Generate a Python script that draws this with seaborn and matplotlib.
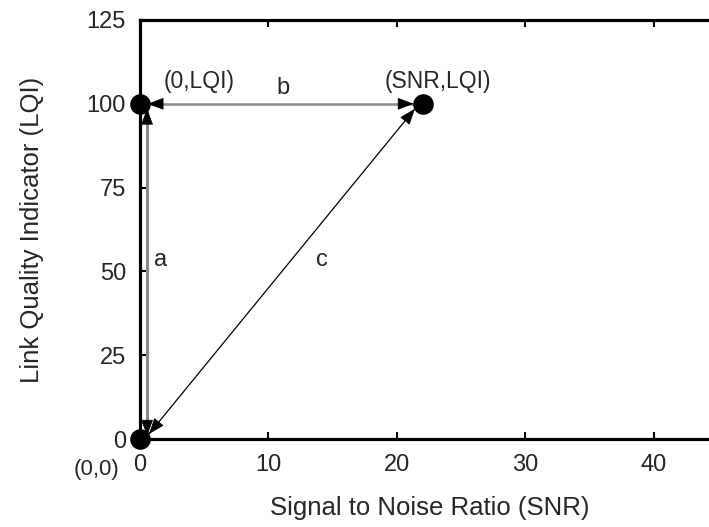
import matplotlib
matplotlib.use("Agg")
import matplotlib.pyplot as plt
import seaborn as sns
import pandas as pd

# Corner points of the SNR / LQI triangle
snr = [0, 0, 22]
lqi = [0, 100, 100]
point_names = ["(0,0)", "(0,LQI)", "(SNR,LQI)"]

# Edges of the triangle: (start point, end point, label)
edges = [(0, 1, "a"), (1, 2, "b"), (0, 2, "c")]

x_ticks = [0, 10, 20, 30, 40]
y_ticks = [0, 25, 50, 75, 100, 125]

sns.set_theme(style="white")
plt.rcParams["font.family"] = ["Liberation Sans", "DejaVu Sans"]

fig = plt.figure(figsize=(7.09, 5.27), dpi=100)
ax = fig.add_axes([140 / 709, 1 - 439 / 527, 578 / 709, 419 / 527])

df = pd.DataFrame({"snr": snr, "lqi": lqi, "name": point_names})
sns.scatterplot(data=df, x="snr", y="lqi", ax=ax, s=220, color="black",
                edgecolor="black", linewidth=0, zorder=5, clip_on=False)

# Edge styles and small offsets so the arrows sit just inside the dots
edge_style = {
    "a": dict(color="#8a8a8a", lw=2.2, off=((0.55, 1.0), (0.55, -1.5))),
    "b": dict(color="#8a8a8a", lw=1.8, off=((0.6, 0.0), (-0.7, 0.0))),
    "c": dict(color="black", lw=0.9, off=((0.7, 1.5), (-0.6, -1.5))),
}
head = "-|>,head_length=0.85,head_width=0.32"
for i, j, name in edges:
    st = edge_style[name]
    (dx0, dy0), (dx1, dy1) = st["off"]
    x0, y0 = snr[i] + dx0, lqi[i] + dy0
    x1, y1 = snr[j] + dx1, lqi[j] + dy1
    ax.plot([x0, x1], [y0, y1], color=st["color"], lw=st["lw"], zorder=3,
            solid_capstyle="butt")
    # black arrowheads at both ends
    for (xa, ya), (xb, yb) in (((x0, y0), (x1, y1)), ((x1, y1), (x0, y0))):
        xs = xa + (xb - xa) * 0.02
        ys = ya + (yb - ya) * 0.02
        ax.annotate("", xy=(xa, ya), xytext=(xs, ys),
                    arrowprops=dict(arrowstyle=head, color="black", lw=0.6,
                                    shrinkA=0, shrinkB=0, mutation_scale=12),
                    zorder=4)

# Edge labels
ax.text(1.6, 53.5, "a", fontsize=17, ha="center", va="center")
ax.text(11.1, 104.8, "b", fontsize=17, ha="center", va="center")
ax.text(14.2, 53.5, "c", fontsize=17, ha="center", va="center")

# Point labels
ax.text(4.6, 106.8, point_names[1], fontsize=16.5, ha="center", va="center")
ax.text(23.2, 106.8, point_names[2], fontsize=16.5, ha="center", va="center")
ax.text(-3.4, -9.0, point_names[0], fontsize=16, ha="center", va="center",
        clip_on=False)

ax.set_xlim(0, 45)
ax.set_ylim(0, 125)
ax.set_xticks(x_ticks)
ax.set_yticks(y_ticks)
ax.tick_params(axis="both", direction="in", length=5, width=1.5,
               labelsize=17, color="black")
ax.tick_params(axis="x", top=True, labeltop=False, bottom=True, pad=11)
ax.tick_params(axis="y", left=True, right=False, pad=10)

for side in ["left", "top", "bottom"]:
    ax.spines[side].set_linewidth(2.3)
    ax.spines[side].set_color("black")
ax.spines["right"].set_visible(False)

ax.set_xlabel("Signal to Noise Ratio (SNR)", fontsize=18.5)
ax.set_ylabel("Link Quality Indicator (LQI)", fontsize=18.5)
ax.xaxis.set_label_coords((430 - 140) / 578, (439 - 508) / 419)
ax.yaxis.set_label_coords((32 - 140) / 578, 0.5)
ax.xaxis.label.set_va("center")
ax.yaxis.label.set_va("center")

fig.savefig("out.png", dpi=100)
